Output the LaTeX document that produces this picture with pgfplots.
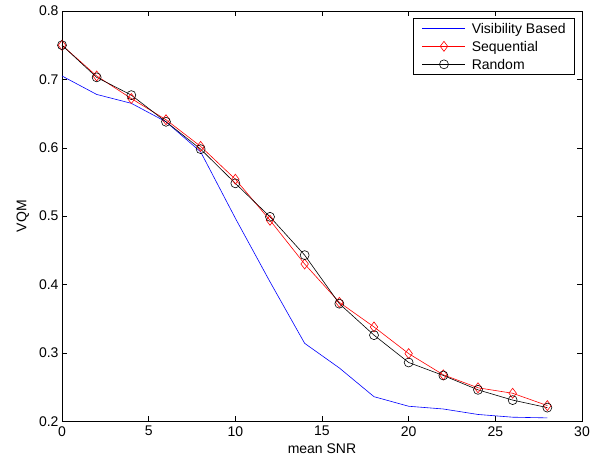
\documentclass[border=0pt]{standalone}
\usepackage{fontspec}
\setmainfont{Liberation Sans}
\usepackage{pgfplots}
\pgfplotsset{compat=1.18}
\begin{document}
\begin{tikzpicture}[x=1pt,y=1pt]
\path (-62,-42) rectangle (540,421.3);
\begin{axis}[
  at={(0,0)}, anchor=south west,
  scale only axis, width=520pt, height=410.3pt,
  xmin=0, xmax=30, ymin=0.2, ymax=0.8,
  xtick={0,5,...,30}, ytick={0.2,0.3,...,0.8},
  tick align=inside, major tick length=5pt,
  tick style={black, line width=0.5pt},
  axis line style={line width=0.6pt},
  /pgf/number format/assume math mode=true,
  yticklabel style={/pgf/number format/fixed, /pgf/number format/fixed zerofill, /pgf/number format/precision=1},
  ticklabel style={font=\fontsize{14}{16}\selectfont},
  xticklabel style={yshift=-1.5pt},
  label style={font=\fontsize{14}{16}\selectfont},
  xlabel={mean SNR}, ylabel={VQM},
  xlabel style={yshift=-1pt},
  ylabel style={yshift=3pt},
  legend style={at={(rel axis cs:0.9865,0.983)}, anchor=north east, draw=black, line width=0.6pt,
    font=\fontsize{14}{16}\selectfont, inner xsep=9pt, inner ysep=3.7pt, row sep=5.3pt,
    column sep=6pt, nodes={inner sep=0pt}, cells={anchor=west}},
  legend cell align=left,
  legend image code/.code={
    \draw[mark repeat=2, mark phase=2, #1] plot coordinates {(0pt,0pt) (21.5pt,0pt) (43pt,0pt)};
  },
]
\addplot[color=blue, line width=0.6pt] coordinates {
(0,0.705) (2,0.678) (4,0.665) (6,0.638) (8,0.594) (10,0.497) (12,0.404) (14,0.314)
(16,0.278) (18,0.236) (20,0.222) (22,0.218) (24,0.210) (26,0.206) (28,0.205)};
\addlegendentry{\strut Visibility Based}
\addplot[red, line width=0.6pt, mark=diamond, mark size=5pt, mark options={solid, red, line width=0.6pt}] coordinates {
(0,0.750) (2,0.705) (4,0.672) (6,0.641) (8,0.602) (10,0.554) (12,0.494) (14,0.430)
(16,0.374) (18,0.338) (20,0.299) (22,0.268) (24,0.249) (26,0.241) (28,0.223)};
\addlegendentry{\strut Sequential}
\addplot[black, line width=0.6pt, mark=o, mark size=4.5pt, mark options={solid, black, line width=0.6pt}] coordinates {
(0,0.750) (2,0.703) (4,0.677) (6,0.638) (8,0.598) (10,0.548) (12,0.499) (14,0.443)
(16,0.372) (18,0.326) (20,0.286) (22,0.267) (24,0.246) (26,0.231) (28,0.220)};
\addlegendentry{\strut Random}
\end{axis}
\end{tikzpicture}
\end{document}
